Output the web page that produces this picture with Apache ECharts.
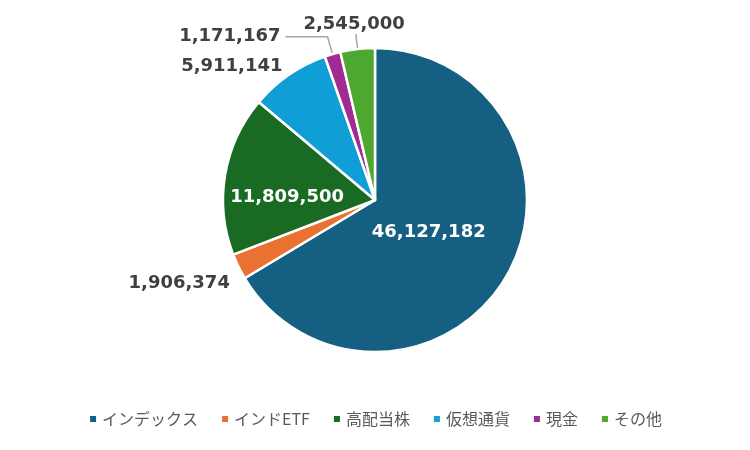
<!DOCTYPE html>
<html>
<head>
<meta charset="utf-8">
<script src="https://cdn.jsdelivr.net/npm/echarts@6/dist/echarts.min.js"></script>
<style>
html,body{margin:0;padding:0;background:#fff;}
#chart{width:750px;height:450px;}
</style>
</head>
<body>
<div id="chart"></div>
<script>
const categories = ['インデックス', 'インドETF', '高配当株', '仮想通貨', '現金', 'その他'];
const values = [46127182, 1906374, 11809500, 5911141, 1171167, 2545000];
const colors = ['#156082', '#E97132', '#196B24', '#0F9ED5', '#A02B93', '#4EA72E'];

const labelFont = { fontFamily: 'DejaVu Sans', fontWeight: 'bold', fontSize: 18 };
const labelCfg = [
  { position: 'inside', color: '#fff', offset: [-15, -7] },
  { position: 'outside', color: '#404040', offset: [1, 14], line: false, length: 5, length2: 0 },
  { position: 'inside', color: '#fff', offset: [-10, 10] },
  { position: 'outside', color: '#404040', offset: [5, 1], line: false, length: 11, length2: 0 },
  { position: 'outside', color: '#404040', offset: [0, 0], line: true, length: 18, length2: 42 },
  { position: 'outside', color: '#404040', offset: [54, -10], line: true, length: 15, length2: 0 }
];

const data = categories.map((name, i) => {
  const c = labelCfg[i];
  return {
    name: name,
    value: values[i],
    itemStyle: { color: colors[i] },
    label: Object.assign({ position: c.position, color: c.color, offset: c.offset }, labelFont),
    labelLine: c.position === 'outside'
      ? { show: c.line, length: c.length, length2: c.length2, lineStyle: { color: '#A6A6A6', width: 1.5 } }
      : { show: false }
  };
});

const chart = echarts.init(document.getElementById('chart'), null, { renderer: 'canvas' });
chart.setOption({
  backgroundColor: '#ffffff',
  animation: false,
  legend: {
    bottom: 18,
    left: 'center',
    icon: 'rect',
    itemWidth: 8,
    itemHeight: 8,
    itemGap: 22,
    textStyle: { color: '#595959', fontSize: 16, fontFamily: 'Noto Sans CJK JP' },
    data: categories
  },
  series: [{
    type: 'pie',
    center: [375, 200],
    radius: 152,
    startAngle: 90,
    clockwise: true,
    avoidLabelOverlap: false,
    itemStyle: { borderColor: '#ffffff', borderWidth: 2.5 },
    emphasis: { disabled: true },
    label: {
      show: true,
      formatter: p => p.value.toLocaleString('en-US')
    },
    data: data
  }]
});
</script>
</body>
</html>
